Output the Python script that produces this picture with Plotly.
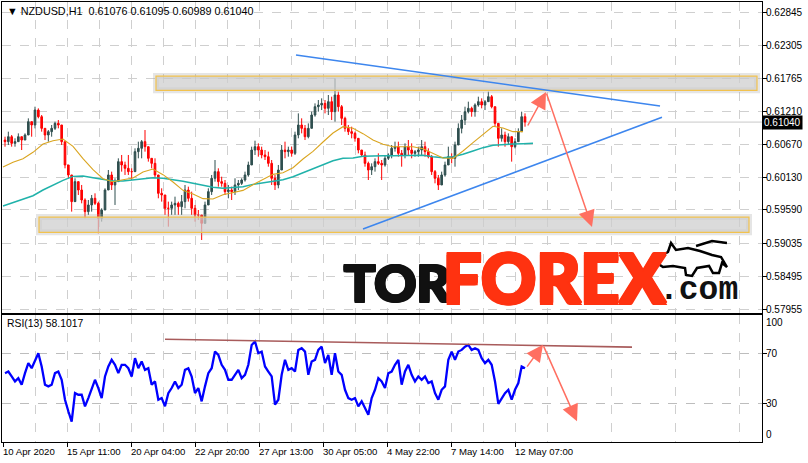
import plotly.graph_objects as go
from plotly.subplots import make_subplots

# ---------------- data ----------------
symbol = "NZDUSD,H1"
last_bar_ohlc = [0.61076, 0.61095, 0.60989, 0.61040]
candle_hours = 10 / 3          # each drawn candle aggregates ~3.3 H1 bars
first_open = 0.60744

highs = [0.60799, 0.60882, 0.60827, 0.60772, 0.60854, 0.60799, 0.60854, 0.61102, 0.61047, 0.61294,
         0.61267, 0.61157, 0.60937, 0.60909, 0.60992, 0.61047, 0.61074, 0.60992, 0.60717, 0.60277,
         0.60167, 0.60112, 0.60057, 0.60002, 0.59782, 0.59754, 0.59837, 0.59864, 0.59727, 0.59617,
         0.59947, 0.60249, 0.60222, 0.60112, 0.60442, 0.60497, 0.60387, 0.60497, 0.60277, 0.60607,
         0.60717, 0.60744, 0.60909, 0.60634, 0.60414, 0.60442, 0.60112, 0.59947, 0.59837, 0.59727,
         0.59727, 0.59809, 0.59727, 0.59837, 0.60002, 0.59974, 0.59892, 0.59672, 0.59589, 0.59507,
         0.59727, 0.59947, 0.60167, 0.60414, 0.60277, 0.60139, 0.60084, 0.60002, 0.59974, 0.60112,
         0.60084, 0.60112, 0.60222, 0.60387, 0.60634, 0.60733, 0.60689, 0.60634, 0.60579, 0.60552,
         0.60414, 0.60167, 0.60332, 0.60662, 0.60717, 0.60634, 0.60634, 0.60882, 0.61184, 0.61102,
         0.60992, 0.61019, 0.61212, 0.61349, 0.61404, 0.61432, 0.61404, 0.61487, 0.61459, 0.61762,
         0.61542, 0.61322, 0.61129, 0.60992, 0.60964, 0.60882, 0.60772, 0.60579, 0.60552, 0.60387,
         0.60359, 0.60442, 0.60524, 0.60414, 0.60497, 0.60524, 0.60662, 0.60717, 0.60717, 0.60579,
         0.60689, 0.60744, 0.60689, 0.60579, 0.60634, 0.60744, 0.60717, 0.60607, 0.60497, 0.60249,
         0.60167, 0.60222, 0.60387, 0.60634, 0.60524, 0.60717, 0.61019, 0.61157, 0.61294, 0.61377,
         0.61294, 0.61349, 0.61459, 0.61432, 0.61404, 0.61542, 0.61487, 0.61294, 0.60992, 0.60937,
         0.60882, 0.60854, 0.60717, 0.60772, 0.60937, 0.61212, 0.61184]
lows = [0.60634, 0.60662, 0.60634, 0.60634, 0.60717, 0.60579, 0.60744, 0.60854, 0.60799, 0.60937,
        0.61102, 0.60882, 0.60744, 0.60717, 0.60799, 0.60909, 0.60937, 0.60662, 0.60277, 0.60112,
        0.59562, 0.59892, 0.59837, 0.59699, 0.59452, 0.59507, 0.59562, 0.59672, 0.59204, 0.59397,
        0.59617, 0.60002, 0.59919, 0.59672, 0.60057, 0.60222, 0.60167, 0.60167, 0.60084, 0.60222,
        0.60442, 0.60442, 0.60552, 0.60387, 0.60277, 0.60112, 0.59782, 0.59727, 0.59507, 0.59314,
        0.59507, 0.59507, 0.59507, 0.59507, 0.59617, 0.59727, 0.59507, 0.59397, 0.59424, 0.59094,
        0.59369, 0.59672, 0.59837, 0.60057, 0.59974, 0.59974, 0.59837, 0.59782, 0.59754, 0.59837,
        0.59919, 0.60002, 0.60057, 0.60139, 0.60332, 0.60497, 0.60469, 0.60442, 0.60414, 0.60304,
        0.60002, 0.59919, 0.59947, 0.60277, 0.60442, 0.60469, 0.60469, 0.60497, 0.60772, 0.60854,
        0.60744, 0.60772, 0.60937, 0.61129, 0.61212, 0.61239, 0.61184, 0.61157, 0.61074, 0.61047,
        0.61212, 0.60992, 0.60882, 0.60827, 0.60772, 0.60717, 0.60524, 0.60469, 0.60304, 0.60084,
        0.60167, 0.60222, 0.60332, 0.60084, 0.60304, 0.60414, 0.60442, 0.60552, 0.60469, 0.60304,
        0.60442, 0.60497, 0.60442, 0.60469, 0.60469, 0.60497, 0.60469, 0.60442, 0.60167, 0.60029,
        0.59919, 0.60057, 0.60139, 0.60387, 0.60359, 0.60304, 0.60717, 0.60854, 0.60992, 0.61184,
        0.61129, 0.61129, 0.61294, 0.61267, 0.61239, 0.61377, 0.61267, 0.60964, 0.60634, 0.60717,
        0.60634, 0.60662, 0.60387, 0.60607, 0.60717, 0.60909, 0.60964]
closes = [0.60717, 0.60799, 0.60689, 0.60717, 0.60799, 0.60744, 0.60827, 0.61047, 0.60992, 0.61239,
          0.61129, 0.60937, 0.60827, 0.60882, 0.60937, 0.61019, 0.60992, 0.60717, 0.60332, 0.60167,
          0.59727, 0.60057, 0.59919, 0.59754, 0.59562, 0.59672, 0.59782, 0.59699, 0.59452, 0.59589,
          0.59919, 0.60167, 0.60002, 0.60057, 0.60387, 0.60332, 0.60277, 0.60222, 0.60222, 0.60552,
          0.60607, 0.60717, 0.60634, 0.60442, 0.60359, 0.60167, 0.59864, 0.59837, 0.59617, 0.59617,
          0.59672, 0.59699, 0.59644, 0.59727, 0.59919, 0.59782, 0.59617, 0.59507, 0.59507, 0.59369,
          0.59672, 0.59892, 0.60112, 0.60222, 0.60057, 0.60029, 0.59892, 0.59919, 0.59892, 0.60002,
          0.60029, 0.60084, 0.60167, 0.60332, 0.60579, 0.60634, 0.60579, 0.60497, 0.60469, 0.60359,
          0.60112, 0.60002, 0.60249, 0.60579, 0.60552, 0.60579, 0.60524, 0.60827, 0.60992, 0.60937,
          0.60799, 0.60937, 0.61157, 0.61294, 0.61322, 0.61349, 0.61267, 0.61377, 0.61212, 0.61487,
          0.61294, 0.61102, 0.60937, 0.60882, 0.60854, 0.60772, 0.60579, 0.60497, 0.60359, 0.60249,
          0.60304, 0.60387, 0.60359, 0.60332, 0.60442, 0.60497, 0.60607, 0.60634, 0.60524, 0.60497,
          0.60634, 0.60579, 0.60524, 0.60552, 0.60579, 0.60634, 0.60552, 0.60469, 0.60222, 0.60112,
          0.60002, 0.60167, 0.60332, 0.60469, 0.60442, 0.60662, 0.60937, 0.61074, 0.61212, 0.61267,
          0.61212, 0.61322, 0.61377, 0.61322, 0.61377, 0.61459, 0.61294, 0.61019, 0.60772, 0.60827,
          0.60717, 0.60799, 0.60634, 0.60717, 0.60882, 0.61129, 0.61040]

ma_step = 10  # bars between MA samples
ma_fast = [0.60298, 0.60376, 0.60436, 0.60541, 0.60678, 0.60733, 0.60761, 0.60640, 0.60436, 0.60254,
           0.60106, 0.60056, 0.60089, 0.60117, 0.60216, 0.60265, 0.60172, 0.60051, 0.59913, 0.59853,
           0.59776, 0.59770, 0.59842, 0.59875, 0.59913, 0.60007, 0.60095, 0.60177, 0.60205, 0.60287,
           0.60430, 0.60557, 0.60711, 0.60860, 0.60964, 0.60937, 0.60849, 0.60744, 0.60673, 0.60634,
           0.60634, 0.60634, 0.60601, 0.60530, 0.60447, 0.60442, 0.60563, 0.60700, 0.60838, 0.60970,
           0.60942, 0.60882, 0.60882]
ma_slow = [0.59655, 0.59710, 0.59765, 0.59825, 0.59919, 0.60001, 0.60078, 0.60144, 0.60150, 0.60122,
           0.60089, 0.60067, 0.60067, 0.60084, 0.60111, 0.60122, 0.60111, 0.60089, 0.60062, 0.60029,
           0.59996, 0.59963, 0.59946, 0.59957, 0.59974, 0.60012, 0.60034, 0.60056, 0.60089, 0.60139,
           0.60205, 0.60276, 0.60343, 0.60403, 0.60442, 0.60447, 0.60475, 0.60486, 0.60486, 0.60486,
           0.60486, 0.60486, 0.60491, 0.60469, 0.60453, 0.60469, 0.60508, 0.60563, 0.60618, 0.60656,
           0.60673, 0.60678, 0.60684, 0.60689]

rsi_name = "RSI(13)"
rsi_last = 58.1017
rsi_values = [54.2, 55.5, 51.6, 47.7, 50.3, 45.1, 54.2, 62.1, 58.1, 64.7,
              69.9, 59.5, 45.1, 43.8, 45.1, 54.2, 55.5, 49.0, 33.3, 24.2,
              16.0, 38.5, 37.2, 37.2, 28.1, 34.6, 41.1, 49.0, 42.5, 34.6,
              51.6, 59.5, 64.7, 60.8, 54.2, 60.8, 60.8, 58.1, 51.6, 66.0,
              58.1, 63.4, 56.8, 58.1, 45.1, 47.7, 33.3, 34.6, 28.1, 38.5,
              42.5, 47.7, 42.5, 45.1, 56.8, 58.1, 51.6, 38.5, 42.5, 32.0,
              43.8, 54.2, 58.1, 71.2, 68.6, 60.8, 56.8, 49.0, 49.0, 52.9,
              56.8, 50.3, 52.9, 60.8, 76.4, 79.1, 69.9, 71.2, 59.5, 55.5,
              51.6, 29.4, 33.3, 52.9, 64.7, 56.8, 58.1, 55.5, 72.5, 73.8,
              71.2, 52.9, 63.4, 64.7, 72.5, 75.1, 62.1, 68.6, 52.9, 69.9,
              55.5, 52.9, 41.1, 34.6, 33.3, 34.6, 28.1, 32.0, 26.8, 21.5,
              34.6, 41.1, 50.3, 47.7, 42.5, 54.2, 55.5, 60.8, 64.7, 45.1,
              55.5, 60.8, 52.9, 47.7, 51.6, 49.0, 51.6, 46.4, 47.7, 38.5,
              33.3, 41.1, 43.8, 64.7, 71.2, 64.7, 71.2, 72.5, 75.1, 76.4,
              72.5, 73.8, 72.5, 66.0, 62.1, 64.7, 60.8, 47.7, 30.0, 34.6,
              38.5, 41.1, 33.3, 41.1, 46.4, 59.5, 58.1]

price_ticks = [0.62845, 0.62305, 0.61765, 0.61210, 0.60670, 0.60130, 0.59590, 0.59035, 0.58495, 0.57955]
rsi_ticks = [100, 70, 30, 0]
time_tick_bars = [0, 64, 128, 192, 256, 320, 384, 448, 512]
time_tick_labels = ["10 Apr 2020", "15 Apr 11:00", "20 Apr 04:00", "22 Apr 20:00", "27 Apr 13:00",
                    "30 Apr 05:00", "4 May 22:00", "7 May 14:00", "12 May 07:00"]

resistance_bars, resistance_zone = [153, 754], [0.61564, 0.61800]
support_bars, support_zone = [36, 746], [0.59221, 0.59473]
upper_trend_bars, upper_trend_prices = [293, 657], [0.62147, 0.61305]
lower_trend_bars, lower_trend_prices = [360, 659], [0.59275, 0.61119]
forecast_bars, forecast_prices = [524, 543, 589], [0.60959, 0.61536, 0.59308]
rsi_trend_bars, rsi_trend_values = [162, 629], [80.9, 74.7]
rsi_forecast_bars, rsi_forecast_values = [523, 540, 574], [58.2, 76.5, 16.3]

# ---------------- figure ----------------
W, H = 808, 463
ML, MR, MT, MB = 2, 46, 2, 21
PLOT_W, PLOT_H = W - ML - MR, H - MT - MB


def paper(px, py):
    return (px - ML) / PLOT_W, (H - MB - py) / PLOT_H


n = len(closes)
cx = [2 + i * candle_hours for i in range(n)]
opens = [first_open] + closes[:-1]
ma_fast_x = [i * ma_step for i in range(len(ma_fast))]
ma_slow_x = [i * ma_step for i in range(len(ma_slow))]

fig = make_subplots(rows=2, cols=1, shared_xaxes=False)

fig.add_trace(go.Candlestick(
    x=cx, open=opens, high=highs, low=lows, close=closes,
    increasing=dict(line=dict(color="#2F4F4F", width=1), fillcolor="#2F4F4F"),
    decreasing=dict(line=dict(color="#FF0000", width=1), fillcolor="#FF0000"),
    whiskerwidth=0, showlegend=False, hoverinfo="skip"), row=1, col=1)
fig.add_trace(go.Scatter(x=ma_slow_x, y=ma_slow, mode="lines",
                         line=dict(color="#20B2AA", width=1.5), showlegend=False), row=1, col=1)
fig.add_trace(go.Scatter(x=ma_fast_x, y=ma_fast, mode="lines",
                         line=dict(color="#DAA520", width=1.1), showlegend=False), row=1, col=1)
fig.add_trace(go.Scatter(x=cx, y=rsi_values, mode="lines",
                         line=dict(color="#0000FF", width=2.3), showlegend=False), row=2, col=1)

FONT = "Liberation Sans, Arial, sans-serif"
grid = "#CFCFCF"
xcommon = dict(range=[-1, 759], showline=True, linecolor="black", linewidth=1, mirror=True,
               zeroline=False, tickmode="array", tickvals=time_tick_bars, showticklabels=False,
               showgrid=True, gridcolor=grid, griddash="dash", gridwidth=1,
               minor=dict(tickmode="array", tickvals=[b + 32 for b in range(0, 736, 64)],
                          showgrid=True, gridcolor=grid, griddash="dash", ticks=""),
               rangeslider=dict(visible=False))

fig.update_layout(
    width=W, height=H, margin=dict(l=ML, r=MR, t=MT, b=MB),
    paper_bgcolor="white", plot_bgcolor="white", hovermode=False,
    font=dict(family=FONT, size=10, color="black"),
    xaxis=dict(**xcommon, ticks="", anchor="y"),
    xaxis2=dict(**xcommon, ticks="outside", ticklen=4, tickcolor="black", anchor="y2"),
    yaxis=dict(domain=[(H - MB - 313) / PLOT_H, 1], range=[0.57889, 0.63022], side="right",
               tickmode="array", tickvals=price_ticks, showticklabels=False,
               ticks="outside", ticklen=4, tickcolor="black",
               showline=True, linecolor="black", mirror=True, zeroline=False,
               showgrid=True, gridcolor=grid, griddash="dash"),
    yaxis2=dict(domain=[0, (H - MB - 315) / PLOT_H], range=[0, 100], side="right",
                tickmode="array", tickvals=[70, 30], showticklabels=False,
                ticks="outside", ticklen=4, tickcolor="black",
                showline=True, linecolor="black", mirror=True, zeroline=False,
                showgrid=True, gridcolor="#BDBDBD", griddash="dash"),
)

shapes = []
# current price line
shapes.append(dict(type="line", xref="x domain", yref="y", x0=0, x1=1,
                   y0=last_bar_ohlc[3], y1=last_bar_ohlc[3], line=dict(color="#C8C8C8", width=1),
                   layer="below"))
# zones
for bars, zone in [(resistance_bars, resistance_zone), (support_bars, support_zone)]:
    shapes.append(dict(type="rect", xref="x", yref="y", x0=bars[0], x1=bars[1], y0=zone[0], y1=zone[1],
                       line=dict(color="rgba(170,170,170,0.3)", width=6), fillcolor="rgba(0,0,0,0)",
                       layer="above"))
    shapes.append(dict(type="rect", xref="x", yref="y", x0=bars[0], x1=bars[1], y0=zone[0], y1=zone[1],
                       line=dict(color="#F2C24E", width=1.2), fillcolor="rgba(205,205,205,0.72)",
                       layer="above"))
# trend lines
for bars, prices in [(upper_trend_bars, upper_trend_prices), (lower_trend_bars, lower_trend_prices)]:
    shapes.append(dict(type="line", xref="x", yref="y", x0=bars[0], x1=bars[1], y0=prices[0], y1=prices[1],
                       line=dict(color="#3D86EE", width=1.6), layer="above"))
# rsi trend line
shapes.append(dict(type="line", xref="x2", yref="y2", x0=rsi_trend_bars[0], x1=rsi_trend_bars[1],
                   y0=rsi_trend_values[0], y1=rsi_trend_values[1],
                   line=dict(color="#A85B5B", width=1.6), layer="above"))

# bull icon (logo decoration), pixel outline -> paper
bull_px = [(657, 263), (661, 256), (668, 252), (671, 243), (676, 250), (688, 248), (700, 251),
           (712, 255), (721, 257), (727, 267), (722, 263), (719, 273), (713, 273), (709, 266),
           (697, 268), (692, 276), (686, 275), (685, 268), (673, 266), (663, 267)]
pts = [paper(a, b) for a, b in bull_px]
path = "M " + " L ".join(f"{a:.4f},{b:.4f}" for a, b in pts) + " Z"
shapes.append(dict(type="path", xref="paper", yref="paper", path=path,
                   line=dict(color="black", width=2.5), fillcolor="white"))
arrow_px = [(696, 246), (712, 241), (727, 243)]
pts = [paper(a, b) for a, b in arrow_px]
shapes.append(dict(type="path", xref="paper", yref="paper",
                   path="M " + " L ".join(f"{a:.4f},{b:.4f}" for a, b in pts),
                   line=dict(color="black", width=2.5)))
fig.update_layout(shapes=shapes)

ann = []
ARROW = "#FF6F61"
for i in range(2):
    ann.append(dict(x=forecast_bars[i + 1], y=forecast_prices[i + 1], ax=forecast_bars[i], ay=forecast_prices[i],
                    xref="x", yref="y", axref="x", ayref="y", text="", showarrow=True,
                    arrowhead=2, arrowsize=2.2, arrowwidth=1.5, arrowcolor=ARROW))
    ann.append(dict(x=rsi_forecast_bars[i + 1], y=rsi_forecast_values[i + 1],
                    ax=rsi_forecast_bars[i], ay=rsi_forecast_values[i],
                    xref="x2", yref="y2", axref="x2", ayref="y2", text="", showarrow=True,
                    arrowhead=2, arrowsize=2.2, arrowwidth=1.5, arrowcolor=ARROW))

# price scale labels
for v in price_ticks:
    ann.append(dict(x=1, y=v, xref="paper", yref="y", xanchor="left", yanchor="middle", showarrow=False,
                    text=f"{v:.5f}", font=dict(size=10, family=FONT, color="black"), xshift=2))
# header
hx, hy = paper(5, 11)
ann.append(dict(x=hx, y=hy, xref="paper", yref="paper", xanchor="left", yanchor="middle", showarrow=False,
                text="▼ " + symbol + "  " + " ".join(f"{v:.5f}" for v in last_bar_ohlc),
                font=dict(size=10.8, family=FONT, color="black")))
rx, ry = paper(5, 323)
ann.append(dict(x=rx, y=ry, xref="paper", yref="paper", xanchor="left", yanchor="middle", showarrow=False,
                text=f"{rsi_name} {rsi_last:.4f}", font=dict(size=10.4, family=FONT, color="black")))
# current price tag
ann.append(dict(x=1, y=last_bar_ohlc[3], xref="paper", yref="y", xanchor="left", yanchor="middle",
                showarrow=False, text=f"{last_bar_ohlc[3]:.5f}", bgcolor="black",
                font=dict(size=10, family=FONT, color="white"), borderpad=1, xshift=0))
# rsi 100 / 0 labels
ann.append(dict(x=1, y=100, xref="paper", yref="y2", xanchor="left", yanchor="top", showarrow=False,
                text=str(rsi_ticks[0]), font=dict(size=10, family=FONT), xshift=2))
for v in rsi_ticks[1:3]:
    ann.append(dict(x=1, y=v, xref="paper", yref="y2", xanchor="left", yanchor="middle", showarrow=False,
                    text=str(v), font=dict(size=10, family=FONT), xshift=2))
ann.append(dict(x=1, y=0, xref="paper", yref="y2", xanchor="left", yanchor="bottom", showarrow=False,
                text=str(rsi_ticks[-1]), font=dict(size=10, family=FONT), xshift=2))
# time labels
for b, t in zip(time_tick_bars, time_tick_labels):
    ann.append(dict(x=b, y=0, xref="x2", yref="paper", xanchor="left", yanchor="top", showarrow=False,
                    text=t, font=dict(size=9.6, family=FONT), xshift=-2, yshift=-2))
# logo
for txt, pxl, pyc, size, color, fam, sw in [("TOR", 342, 282, 52, "#111111", "Lato", 1.2),
                                            ("FOREX", 441, 276, 68, "#FF3210", "Lato", 1.5),
                                            (".com", 657, 290, 33, "#111111", "Liberation Mono", 0)]:
    lx, ly = paper(pxl, pyc)
    sh = "none" if sw == 0 else ", ".join(f"{dx}px {dy}px 0 {color}" for dx, dy in
                                         [(sw, 0), (-sw, 0), (0, sw), (0, -sw), (sw, sw), (-sw, -sw),
                                          (sw, -sw), (-sw, sw)])
    ann.append(dict(x=lx, y=ly, xref="paper", yref="paper", xanchor="left", yanchor="middle",
                    showarrow=False, text=txt,
                    font=dict(size=size, family=fam, color=color, weight=900, shadow=sh)))
fig.update_layout(annotations=ann)

fig.write_html("out.html", config={"displayModeBar": False},
               post_script="document.body.style.margin='0';document.body.style.padding='0';")
